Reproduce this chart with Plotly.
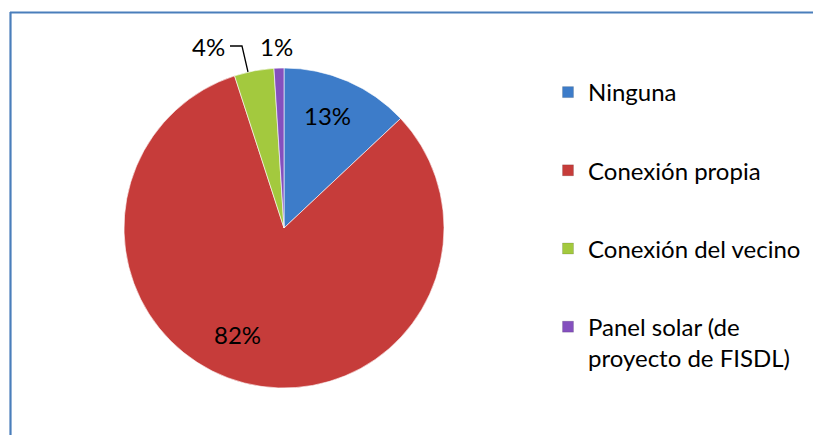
import plotly.graph_objects as go

labels = ["Ninguna", "Conexión propia", "Conexión del vecino", "Panel solar (de<br>proyecto de FISDL)"]
values = [13, 82, 4, 1]
colors = ["#3D7CC9", "#C63C3A", "#A3C93E", "#8450BE"]

W, H = 821, 435
OFF = 8  # page body margin offset in the screenshot
FONT = "Lato"
FS = 24

def px(x):
    return (x - OFF) / W

def py(y):
    return 1 - (y - OFF) / H

fig = go.Figure()
fig.add_trace(go.Pie(
    labels=labels, values=values, sort=False, direction="clockwise", rotation=0,
    marker=dict(colors=colors, line=dict(color="rgba(255,255,255,0.6)", width=1)),
    textinfo="none",
    showlegend=False, hoverinfo="label+percent",
    domain=dict(x=[px(124), px(444)], y=[py(388), py(68)]),
))

for i, (lab, col) in enumerate(zip(labels, colors)):
    fig.add_trace(go.Scatter(
        x=[None], y=[None], mode="markers", name=lab, legendgroup=f"g{i}",
        marker=dict(symbol="square", size=11, color=col, line=dict(color="rgba(0,0,0,0.25)", width=0.5)),
    ))

# slice labels (percentages from the values)
total = sum(values)
label_pos = [(327, 115), (237, 334), (208, 46), (276, 46)]
for v, (lx, ly) in zip(values, label_pos):
    fig.add_annotation(x=px(lx), y=py(ly), xref="paper", yref="paper",
                       xanchor="center", yanchor="middle",
                       text=f"{v/total:.0%}", showarrow=False,
                       font=dict(family=FONT, size=FS, color="black"))

# leader line for the 4% label
fig.add_shape(type="path", xref="paper", yref="paper",
              path=f"M {px(230)} {py(46)} L {px(242)} {py(46)} L {px(248)} {py(72)}",
              line=dict(color="black", width=1.3))

# chart-area frame (top and left edges visible)
fig.add_shape(type="line", xref="paper", yref="paper", x0=px(10), x1=1.02, y0=py(12.5), y1=py(12.5),
              line=dict(color="#4A7EBB", width=2.2))
fig.add_shape(type="line", xref="paper", yref="paper", x0=px(10.5), x1=px(10.5), y0=py(12), y1=-0.02,
              line=dict(color="#4A7EBB", width=2.2))

fig.update_layout(
    width=W, height=H,
    margin=dict(l=0, r=0, t=0, b=0),
    paper_bgcolor="white", plot_bgcolor="white",
    xaxis=dict(visible=False), yaxis=dict(visible=False),
    font=dict(family=FONT, size=FS, color="black"),
    legend=dict(x=px(548), y=py(70), xanchor="left", yanchor="top",
                font=dict(family=FONT, size=FS, color="black"),
                tracegroupgap=44, valign="top", bgcolor="rgba(0,0,0,0)"),
)

fig.write_html("out.html")
